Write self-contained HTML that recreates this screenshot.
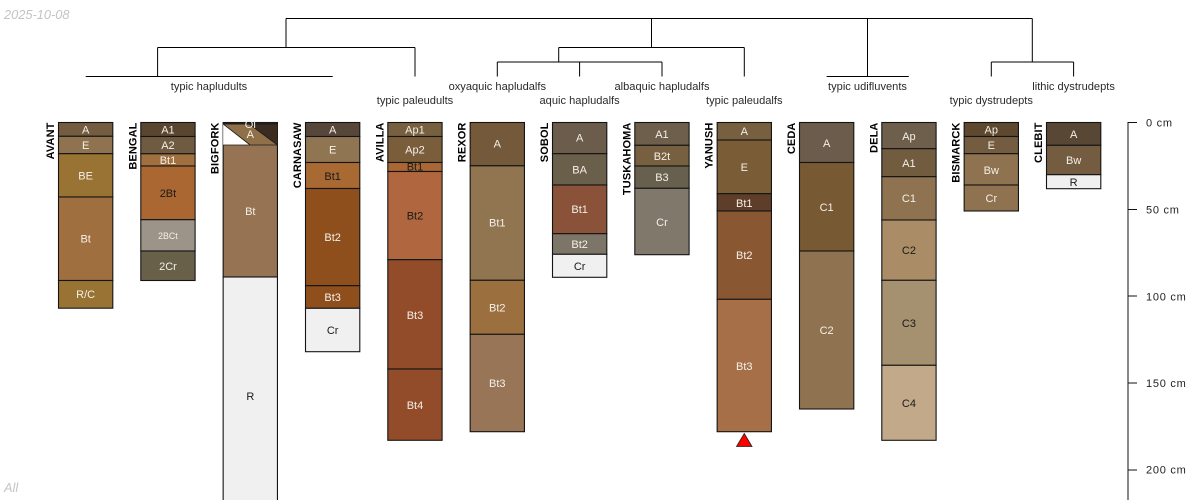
<!DOCTYPE html>
<html>
<head>
<meta charset="utf-8">
<style>
html,body{margin:0;padding:0;background:#fff;width:1200px;height:500px;overflow:hidden}
svg{display:block}
text{font-family:"Liberation Sans",sans-serif}
.h rect{stroke:#141414;stroke-width:1.1}
.h text{font-size:11px;text-anchor:middle;fill:#f4f0e8}
.h text.d{fill:#1a1a1a}
.n{font-size:11px;font-weight:bold;text-anchor:end;fill:#000;letter-spacing:.12px}
.t{font-size:11.1px;text-anchor:middle;fill:#2a2a2a}
.l{stroke:#000;stroke-width:1;fill:none}
.a{font-size:11px;fill:#222;letter-spacing:.75px}
</style>
</head>
<body>
<svg width="1200" height="500" viewBox="0 0 1200 500" xmlns="http://www.w3.org/2000/svg">
<rect width="1200" height="500" fill="#fff"/>
<text x="4" y="19" font-size="12.8" font-style="italic" fill="#c4c4c4">2025-10-08</text>
<text x="4" y="492" font-size="12.8" font-style="italic" fill="#c4c4c4">All</text>

<!-- dendrogram -->
<path class="l" d="M286 18.5H1032.3M286 18.5V47M157.6 47.5H415M157.6 47.5V76M85.7 76.5H332.7M415 47.5V76.5M651.5 18.5V47.5M558.7 47.5H744.3M558.7 47.5V62M497.3 62H620.8M579.6 62H662M497.3 62V76.5M579.6 62V76.5M662 62V76.5M744.3 47.5V76.5M867.5 18.5V76.5M826.6 76.5H908.8M1032.3 18.5V62M991.3 62H1073.6M991.3 62V76.5M1073.6 62V76.5"/>

<text class="t" x="209" y="90">typic hapludults</text>
<text class="t" x="415" y="104">typic paleudults</text>
<text class="t" x="497.3" y="90">oxyaquic hapludalfs</text>
<text class="t" x="579.6" y="104">aquic hapludalfs</text>
<text class="t" x="662" y="90">albaquic hapludalfs</text>
<text class="t" x="744.3" y="104">typic paleudalfs</text>
<text class="t" x="867.5" y="90">typic udifluvents</text>
<text class="t" x="991.3" y="104">typic dystrudepts</text>
<text class="t" x="1073.6" y="90">lithic dystrudepts</text>

<!-- names -->
<text class="n" transform="translate(54,122.5) rotate(-90)">AVANT</text>
<text class="n" transform="translate(136.3,122.5) rotate(-90)">BENGAL</text>
<text class="n" transform="translate(218.6,122.5) rotate(-90)">BIGFORK</text>
<text class="n" transform="translate(301,122.5) rotate(-90)">CARNASAW</text>
<text class="n" transform="translate(383.3,122.5) rotate(-90)">AVILLA</text>
<text class="n" transform="translate(465.6,122.5) rotate(-90)">REXOR</text>
<text class="n" transform="translate(548,122.5) rotate(-90)">SOBOL</text>
<text class="n" transform="translate(630.3,122.5) rotate(-90)">TUSKAHOMA</text>
<text class="n" transform="translate(712.6,122.5) rotate(-90)">YANUSH</text>
<text class="n" transform="translate(795,122.5) rotate(-90)">CEDA</text>
<text class="n" transform="translate(877.3,122.5) rotate(-90)">DELA</text>
<text class="n" transform="translate(959.6,122.5) rotate(-90)">BISMARCK</text>
<text class="n" transform="translate(1042,122.5) rotate(-90)">CLEBIT</text>

<!-- AVANT -->
<g class="h" transform="translate(58.5,0)">
<rect y="122.5" width="54.3" height="13.8" fill="#735c40"/><rect y="136.3" width="54.3" height="17.4" fill="#8f7350"/><rect y="153.7" width="54.3" height="43.3" fill="#997333"/><rect y="197" width="54.3" height="83.5" fill="#a06f40"/><rect y="280.5" width="54.3" height="27.7" fill="#997333"/>
<text x="27.15" y="133.5">A</text><text x="27.15" y="149">E</text><text x="27.15" y="179.5">BE</text><text x="27.15" y="242.5">Bt</text><text x="27.15" y="298">R/C</text>
</g>
<!-- BENGAL -->
<g class="h" transform="translate(140.8,0)">
<rect y="122.5" width="54.3" height="14" fill="#5a4630"/><rect y="136.5" width="54.3" height="17.3" fill="#6f5b41"/><rect y="153.8" width="54.3" height="12.2" fill="#a0703f"/><rect y="166" width="54.3" height="53.7" fill="#ab6732"/><rect y="219.7" width="54.3" height="31.3" fill="#9c9488"/><rect y="251" width="54.3" height="29.5" fill="#69604a"/>
<text x="27.15" y="133.5">A1</text><text x="27.15" y="149">A2</text><text x="27.15" y="164">Bt1</text><text x="27.15" y="197" class="d">2Bt</text><text x="27.15" y="239" style="font-size:8.8px">2BCt</text><text x="27.15" y="270">2Cr</text>
</g>
<!-- BIGFORK -->
<g class="h" transform="translate(223.15,0)">
<rect y="122.5" width="54.3" height="154.5" fill="#967352"/><rect y="277" width="54.3" height="240" fill="#f0f0f0"/>
<polygon points="0,124 0,145 27,145" fill="#fff"/>
<polygon points="0,124 27,145 54.3,145 26,124" fill="#8f7048"/>
<polygon points="26,124 54.3,124 54.3,145" fill="#3a2c20"/>
<path d="M0 122.5H54.3V124.5H0Z" fill="#1e1e1e"/>
<path d="M0 124L27 145M26 124L54.3 145M0 145H54.3" stroke="#1c1c1c" fill="none" stroke-width="0.8"/>
<text x="27.15" y="128">Oi</text><text x="27.15" y="138">A</text><text x="27.15" y="215">Bt</text><text x="27.15" y="400" class="d">R</text>
</g>
<!-- CARNASAW -->
<g class="h" transform="translate(305.5,0)">
<rect y="122.5" width="54.3" height="14" fill="#57473a"/><rect y="136.5" width="54.3" height="26" fill="#8f7551"/><rect y="162.5" width="54.3" height="26" fill="#a96933"/><rect y="188.5" width="54.3" height="97.2" fill="#8f4f1d"/><rect y="285.7" width="54.3" height="22.6" fill="#8f4f1d"/><rect y="308.3" width="54.3" height="43.4" fill="#f0f0f0"/>
<text x="27.15" y="133.5">A</text><text x="27.15" y="153.5">E</text><text x="27.15" y="180" class="d">Bt1</text><text x="27.15" y="241">Bt2</text><text x="27.15" y="301">Bt3</text><text x="27.15" y="334" class="d">Cr</text>
</g>
<!-- AVILLA -->
<g class="h" transform="translate(387.8,0)">
<rect y="122.5" width="54.3" height="14" fill="#77603f"/><rect y="136.5" width="54.3" height="26" fill="#7a5d3a"/><rect y="162.5" width="54.3" height="9" fill="#aa6733"/><rect y="171.5" width="54.3" height="88.2" fill="#b0663e"/><rect y="259.7" width="54.3" height="109.3" fill="#924c29"/><rect y="369" width="54.3" height="71.3" fill="#924c29"/>
<text x="27.15" y="133.5">Ap1</text><text x="27.15" y="153.5">Ap2</text><text x="27.15" y="170.5" class="d">Bt1</text><text x="27.15" y="219.5" class="d">Bt2</text><text x="27.15" y="319">Bt3</text><text x="27.15" y="409">Bt4</text>
</g>
<!-- REXOR -->
<g class="h" transform="translate(470.15,0)">
<rect y="122.5" width="54.3" height="43.3" fill="#75593b"/><rect y="165.8" width="54.3" height="114.5" fill="#907550"/><rect y="280.3" width="54.3" height="54" fill="#9c6f3e"/><rect y="334.3" width="54.3" height="97.4" fill="#977556"/>
<text x="27.15" y="147.5">A</text><text x="27.15" y="226.5">Bt1</text><text x="27.15" y="311.5">Bt2</text><text x="27.15" y="387">Bt3</text>
</g>
<!-- SOBOL -->
<g class="h" transform="translate(552.5,0)">
<rect y="122.5" width="54.3" height="31.2" fill="#6b5c4b"/><rect y="153.7" width="54.3" height="31.3" fill="#6a5f4a"/><rect y="185" width="54.3" height="48.7" fill="#8a5238"/><rect y="233.7" width="54.3" height="20.6" fill="#7d7568"/><rect y="254.3" width="54.3" height="23" fill="#f0f0f0"/>
<text x="27.15" y="141.5">A</text><text x="27.15" y="173.5">BA</text><text x="27.15" y="213">Bt1</text><text x="27.15" y="248">Bt2</text><text x="27.15" y="270" class="d">Cr</text>
</g>
<!-- TUSKAHOMA -->
<g class="h" transform="translate(634.8,0)">
<rect y="122.5" width="54.3" height="22.8" fill="#6e5f4c"/><rect y="145.3" width="54.3" height="20.7" fill="#77603f"/><rect y="166" width="54.3" height="22.3" fill="#67604f"/><rect y="188.3" width="54.3" height="66.4" fill="#80786b"/>
<text x="27.15" y="138">A1</text><text x="27.15" y="160">B2t</text><text x="27.15" y="181">B3</text><text x="27.15" y="226">Cr</text>
</g>
<!-- YANUSH -->
<g class="h" transform="translate(717.15,0)">
<rect y="122.5" width="54.3" height="17.5" fill="#77603f"/><rect y="140" width="54.3" height="53.7" fill="#7a5d37"/><rect y="193.7" width="54.3" height="17.3" fill="#5f3e29"/><rect y="211" width="54.3" height="88.3" fill="#8a5733"/><rect y="299.3" width="54.3" height="132.4" fill="#a66f48"/>
<text x="27.15" y="135">A</text><text x="27.15" y="171">E</text><text x="27.15" y="207">Bt1</text><text x="27.15" y="259">Bt2</text><text x="27.15" y="370">Bt3</text>
</g>
<polygon points="744.3,433.5 736.5,446.5 752,446.5" fill="#ff0000" stroke="#222" stroke-width="0.8"/>
<!-- CEDA -->
<g class="h" transform="translate(799.5,0)">
<rect y="122.5" width="54.3" height="40" fill="#6b5c4b"/><rect y="162.5" width="54.3" height="88.5" fill="#775a34"/><rect y="251" width="54.3" height="158" fill="#8f7350"/>
<text x="27.15" y="147">A</text><text x="27.15" y="211">C1</text><text x="27.15" y="334">C2</text>
</g>
<!-- DELA -->
<g class="h" transform="translate(881.8,0)">
<rect y="122.5" width="54.3" height="26.2" fill="#6e5f4c"/><rect y="148.7" width="54.3" height="28" fill="#725c40"/><rect y="176.7" width="54.3" height="43.3" fill="#8f7350"/><rect y="220" width="54.3" height="60.3" fill="#aa8d66"/><rect y="280.3" width="54.3" height="85" fill="#a59070"/><rect y="365.3" width="54.3" height="75" fill="#c2a98a"/>
<text x="27.15" y="140">Ap</text><text x="27.15" y="167">A1</text><text x="27.15" y="202">C1</text><text x="27.15" y="254" class="d">C2</text><text x="27.15" y="327" class="d">C3</text><text x="27.15" y="407" class="d">C4</text>
</g>
<!-- BISMARCK -->
<g class="h" transform="translate(964.15,0)">
<rect y="122.5" width="54.3" height="14" fill="#5e482e"/><rect y="136.5" width="54.3" height="17.2" fill="#735c40"/><rect y="153.7" width="54.3" height="31.3" fill="#8f7350"/><rect y="185" width="54.3" height="26" fill="#8f7350"/>
<text x="27.15" y="133.5">Ap</text><text x="27.15" y="149">E</text><text x="27.15" y="174">Bw</text><text x="27.15" y="202">Cr</text>
</g>
<!-- CLEBIT -->
<g class="h" transform="translate(1046.5,0)">
<rect y="122.5" width="54.3" height="22.8" fill="#574734"/><rect y="145.3" width="54.3" height="29.4" fill="#735c40"/><rect y="174.7" width="54.3" height="14" fill="#f0f0f0"/>
<text x="27.15" y="138">A</text><text x="27.15" y="164">Bw</text><text x="27.15" y="186" class="d">R</text>
</g>

<!-- axis -->
<path d="M1128 122V500" stroke="#111" stroke-width="1" fill="none"/>
<path d="M1128 122.5H1137M1128 209.5H1137M1128 296H1137M1128 383H1137M1128 470H1137" stroke="#111" stroke-width="1" fill="none"/>
<text class="a" x="1146" y="126.5">0 cm</text>
<text class="a" x="1146" y="213.5">50 cm</text>
<text class="a" x="1146" y="300.5">100 cm</text>
<text class="a" x="1146" y="387">150 cm</text>
<text class="a" x="1146" y="473.5">200 cm</text>
</svg>
</body>
</html>
